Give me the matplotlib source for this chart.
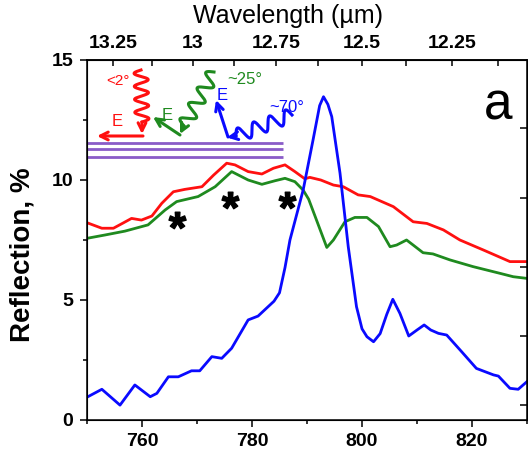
import numpy as np
import matplotlib
matplotlib.use("Agg")
import matplotlib.pyplot as plt
from matplotlib.ticker import MultipleLocator
from matplotlib.transforms import Affine2D
from matplotlib.textpath import TextPath
from matplotlib.font_manager import FontProperties

plt.rcParams['font.family'] = ['Liberation Sans', 'DejaVu Sans']

# --- данные (волновое число, см^-1 / отражение, %) ---
blue_x = [750.0, 752.7, 756.0, 758.7, 761.5, 762.7, 764.8, 766.6, 769.0, 770.5,
          772.7, 774.5, 776.3, 779.3, 781.1, 784.0, 785.0, 786.0, 786.9, 789.3,
          791.1, 792.3, 793.0, 793.8, 794.5, 796.0, 797.5, 799.0, 800.0, 800.9,
          802.1, 803.3, 804.5, 805.6, 806.9, 808.5, 810.0, 811.3, 812.5, 813.9,
          815.4, 818.1, 820.8, 823.9, 824.8, 826.9, 828.4, 830.0]
blue_y = [0.95, 1.28, 0.62, 1.46, 0.97, 1.11, 1.80, 1.80, 2.05, 2.05,
          2.64, 2.57, 2.99, 4.17, 4.33, 4.95, 5.30, 6.35, 7.50, 9.58,
          11.67, 13.10, 13.47, 13.15, 12.64, 10.29, 7.22, 4.72, 3.80, 3.47,
          3.26, 3.60, 4.40, 5.03, 4.44, 3.50, 3.75, 3.96, 3.75, 3.61,
          3.54, 2.85, 2.15, 1.88, 1.83, 1.32, 1.28, 1.60]

red_x = [750.0, 752.7, 754.8, 756.5, 758.1, 759.9, 761.8, 763.6, 765.7, 767.8,
         770.9, 773.0, 775.4, 776.9, 779.3, 781.8, 783.9, 786.0, 787.8, 789.6,
         790.5, 792.5, 794.8, 796.6, 799.3, 801.5, 805.7, 809.3, 811.8, 814.8,
         817.8, 822.1, 826.9, 830.0]
red_y = [8.22, 7.99, 7.99, 8.20, 8.40, 8.33, 8.50, 9.03, 9.51, 9.61,
         9.72, 10.20, 10.70, 10.63, 10.35, 10.25, 10.49, 10.63, 10.35, 10.05,
         10.11, 10.00, 9.79, 9.72, 9.38, 9.31, 8.89, 8.26, 8.19, 7.92,
         7.50, 7.08, 6.60, 6.60]

green_x = [750.0, 753.3, 756.9, 761.1, 764.2, 766.3, 770.2, 773.3, 776.3, 779.3,
           781.8, 784.2, 786.0, 787.8, 789.3, 790.3, 791.5, 793.6, 794.8, 796.9,
           798.7, 800.9, 803.0, 805.1, 806.3, 808.1, 809.3, 811.1, 812.9, 816.0,
           820.2, 825.1, 827.5, 830.0]
green_y = [7.57, 7.71, 7.87, 8.13, 8.75, 9.10, 9.31, 9.72, 10.35, 10.00,
           9.82, 9.97, 10.07, 9.93, 9.58, 9.20, 8.47, 7.19, 7.50, 8.26,
           8.44, 8.44, 8.06, 7.22, 7.29, 7.50, 7.29, 6.97, 6.92, 6.67,
           6.39, 6.11, 5.97, 5.90]

# звёздочки и линии слоёв
star_x = [766.3, 776.0, 786.3]
star_y = [8.05, 8.86, 8.86]
layer_y = [11.55, 11.28, 10.97]
layer_x = [750.0, 785.6]

top_ticks = [13.25, 13.0, 12.75, 12.5, 12.25]
top_labels = ['13.25', '13', '12.75', '12.5', '12.25']
top_minor = [13.125, 12.875, 12.625, 12.375, 12.125]
right_ticks = [0.62, 3.5, 6.38, 9.25, 12.17]

RED = '#ff1010'
GREEN = '#1f8a1f'
BLUE = '#0a0aff'
PURPLE = '#8a5cc8'

W, H = 528, 453
fig = plt.figure(figsize=(W / 100, H / 100), dpi=100)
ax = fig.add_axes([87 / W, 1 - 420 / H, 440 / W, 360 / H])
pix = Affine2D().scale(1 / W, -1 / H).translate(0, 1) + fig.transFigure

ax.plot(red_x, red_y, color=RED, lw=2)
ax.plot(green_x, green_y, color=GREEN, lw=2)
ax.plot(blue_x, blue_y, color=BLUE, lw=2)

for y in layer_y:
    ax.plot(layer_x, [y, y], color=PURPLE, lw=2, solid_capstyle='butt')

# звёздочка как маркер (центрированный путь)
sp = TextPath((0, 0), '*', prop=FontProperties(family='Liberation Sans', weight='bold'))
v = sp.vertices.copy()
v -= (v.max(axis=0) + v.min(axis=0)) / 2
sp = matplotlib.path.Path(v, sp.codes)
ax.plot(star_x, star_y, ls='none', marker=sp, ms=22, color='black')

ax.set_xlim(750, 830)
ax.set_ylim(0, 15)
ax.set_xticks([760, 780, 800, 820])
ax.set_yticks([0, 5, 10, 15])
ax.xaxis.set_minor_locator(MultipleLocator(10))
ax.yaxis.set_minor_locator(MultipleLocator(2.5))
ax.tick_params(which='major', direction='out', length=5, width=1.1,
               labelsize=14, pad=4)
ax.tick_params(which='minor', direction='out', length=3, width=1.1)
ax.tick_params(axis='y', pad=5)
for lab in ax.get_xticklabels() + ax.get_yticklabels():
    lab.set_fontweight('bold')
for s in ax.spines.values():
    s.set_linewidth(1.1)

ax.set_ylabel('Reflection, %', fontsize=20, fontweight='bold')
ax.yaxis.set_label_coords(-0.118, 0.458)

# правая ось (тики внутрь)
ax2 = ax.twinx()
ax2.set_ylim(0, 15)
ax2.set_yticks(right_ticks)
ax2.tick_params(direction='in', length=5, width=1.1, labelright=False)

# верхняя ось: длина волны, мкм
inv = lambda x: 1e4 / np.asarray(x, dtype=float)
sec = ax.secondary_xaxis('top', functions=(inv, inv))
sec.set_xticks(top_ticks, labels=top_labels)
sec.set_xticks(top_minor, minor=True)
sec.tick_params(which='major', direction='in', length=4, width=1.1, labelsize=14, pad=6)
sec.tick_params(which='minor', direction='in', length=4, width=1.1)
for lab in sec.get_xticklabels():
    lab.set_fontweight('bold')
sec.spines['top'].set_linewidth(1.1)
fig.text(288, 23, 'Wavelength (\u00b5m)', transform=pix, fontsize=18,
         ha='center', va='baseline')

fig.text(498, 119, 'a', transform=pix, fontsize=37, ha='center', va='baseline')


# --- схема падения волн ---
def wave(p0, p1, n, amp, npts=300):
    p0, p1 = np.array(p0, float), np.array(p1, float)
    t = np.linspace(0, 1, npts)
    d = p1 - p0
    u = d / np.hypot(*d)
    nrm = np.array([-u[1], u[0]])
    pts = p0 + np.outer(t, d) + np.outer(amp * np.sin(2 * np.pi * n * t), nrm)
    return pts[:, 0], pts[:, 1]


def arrow(p0, p1, color):
    ax.annotate('', xy=p1, xytext=p0, xycoords=pix, textcoords=pix,
                arrowprops=dict(arrowstyle='->', color=color, lw=2.2,
                                mutation_scale=14, shrinkA=0, shrinkB=0),
                annotation_clip=False)


for (p0, p1, n, amp, tip, e0, e1, col) in [
        ((141, 70), (142, 122), 4.0, 7, (142, 134), (143, 136), (97, 136), RED),
        ((214, 72), (184, 126), 3.5, 7, (180, 134), (180, 135), (153, 117), GREEN),
        ((292, 115), (236, 136), 3.5, 7, (227, 137.5), (228, 137), (216, 100), BLUE)]:
    xs, ys = wave(p0, p1, n, amp)
    ax.plot(xs, ys, color=col, lw=2.2, transform=pix, clip_on=False)
    arrow(p1, tip, col)
    arrow(e0, e1, col)

fig.text(118, 81, '<2\u00b0', transform=pix, color=RED, fontsize=11, ha='center', va='center')
fig.text(117, 121, 'E', transform=pix, color=RED, fontsize=12, ha='center', va='center')
fig.text(167, 115, 'E', transform=pix, color=GREEN, fontsize=12, ha='center', va='center')
fig.text(245, 80, '~25\u00b0', transform=pix, color=GREEN, fontsize=12, ha='center', va='center')
fig.text(222, 96, 'E', transform=pix, color=BLUE, fontsize=12, ha='center', va='center')
fig.text(287, 107, '~70\u00b0', transform=pix, color=BLUE, fontsize=12, ha='center', va='center')

fig.savefig('out.png', dpi=100)
